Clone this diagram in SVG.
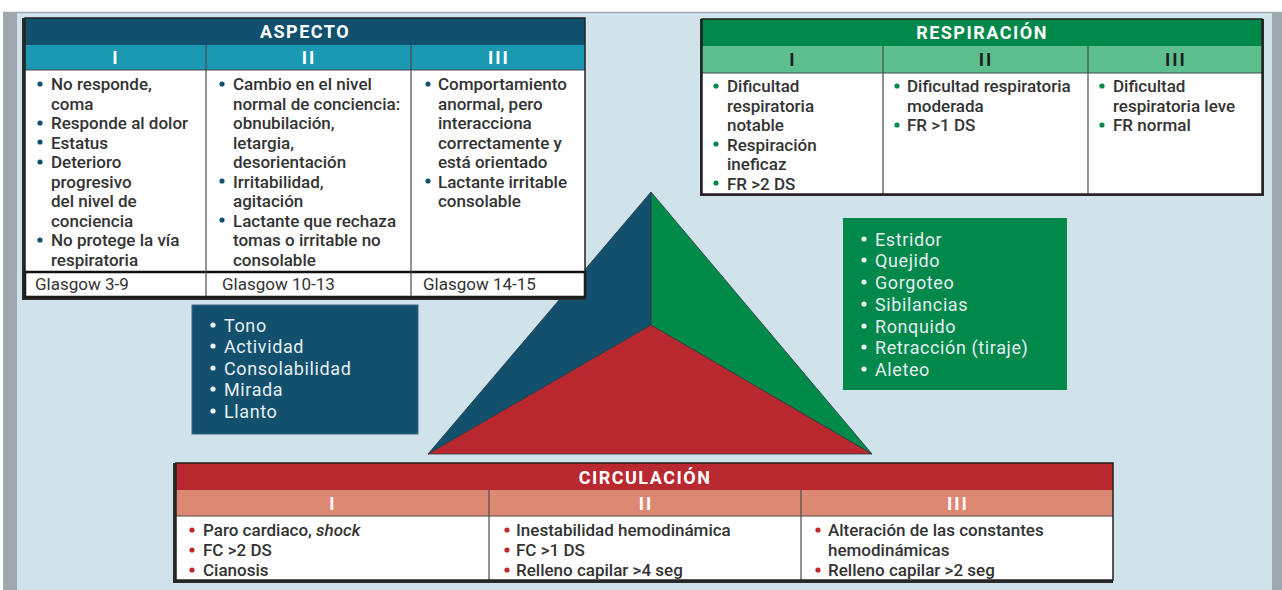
<svg xmlns="http://www.w3.org/2000/svg" width="1282" height="590" viewBox="0 0 1282 590">
<style>
  .hdr{font-family:Roboto,"Liberation Sans",sans-serif;font-weight:700;font-size:18px;fill:#ffffff;letter-spacing:1.5px;text-anchor:middle}
  .num{font-family:Roboto,"Liberation Sans",sans-serif;font-weight:700;font-size:18px;fill:#ffffff;letter-spacing:2px;text-anchor:middle}
  .numd{fill:#1e1e1e}
  .bd{font-family:Roboto,"Liberation Sans",sans-serif;font-weight:500;font-size:17px;fill:#333333}
  .gl{font-family:Roboto,"Liberation Sans",sans-serif;font-weight:400;font-size:17px;fill:#333333}
  .bx{font-family:Roboto,"Liberation Sans",sans-serif;font-weight:400;font-size:18px;fill:#e6eef2;letter-spacing:0.6px}
  .grid{stroke:#4a4a4a;stroke-width:1.2;fill:none}
  .frame{fill:none;stroke:#222;stroke-width:1.5}
  .shadow{fill:#2a2a2a}
  .db{fill:#12506e}.dg{fill:#00894a}.dr{fill:#c0282f}.dw{fill:#eef3f5}
</style>
<rect x="0" y="0" width="1282" height="590" fill="#ffffff"/>
<rect x="3" y="12" width="14" height="578" fill="#9ea8ad"/>
<rect x="1272" y="12" width="10" height="578" fill="#9ea8ad"/>
<rect x="17" y="12" width="1255" height="578" fill="#d0e2ea"/>
<line x1="3" y1="12.5" x2="1282" y2="12.5" stroke="#9ea8ad" stroke-width="1.5"/>

<g id="triangle">
  <polygon points="651,192 651,325 428,454" fill="#12506e" stroke="#2a3a40" stroke-width="0.8"/>
  <polygon points="651,192 651,325 872,454" fill="#008a4a" stroke="#2a3a40" stroke-width="0.8"/>
  <polygon points="428,454 651,325 872,454" fill="#b9282f" stroke="#2a3a40" stroke-width="0.8"/>
</g>

<g id="aspecto">
  <rect class="shadow" x="22" y="18" width="563" height="282"/>
  <rect x="25" y="18" width="560" height="27" fill="#12506e"/>
  <rect x="25" y="45" width="560" height="25" fill="#1b98b2"/>
  <rect x="25" y="70" width="560" height="202" fill="#ffffff"/>
  <rect x="25" y="272" width="560" height="25" fill="#ffffff" stroke="#111" stroke-width="2.5"/>
  <line class="grid" x1="206" y1="45" x2="206" y2="297"/>
  <line class="grid" x1="411" y1="45" x2="411" y2="297"/>
  <line class="grid" x1="25" y1="70" x2="585" y2="70"/>
  <rect class="frame" x="25" y="18" width="560" height="279"/>
  <text class="hdr" x="305" y="38">ASPECTO</text>
  <text class="num" x="116" y="64">I</text>
  <text class="num" x="309" y="64">II</text>
  <text class="num" x="499" y="64">III</text>
  <g class="db">
    <circle cx="40" cy="84" r="2.6"/><circle cx="40" cy="123" r="2.6"/><circle cx="40" cy="142" r="2.6"/><circle cx="40" cy="162" r="2.6"/><circle cx="40" cy="240" r="2.6"/>
    <circle cx="222" cy="84" r="2.6"/><circle cx="222" cy="181" r="2.6"/><circle cx="222" cy="220" r="2.6"/>
    <circle cx="428" cy="84" r="2.6"/><circle cx="428" cy="181" r="2.6"/>
  </g>
  <text class="bd">
    <tspan x="51" y="90">No responde,</tspan>
    <tspan x="51" y="109.5">coma</tspan>
    <tspan x="51" y="129">Responde al dolor</tspan>
    <tspan x="51" y="148.5">Estatus</tspan>
    <tspan x="51" y="168">Deterioro</tspan>
    <tspan x="51" y="187.5">progresivo</tspan>
    <tspan x="51" y="207">del nivel de</tspan>
    <tspan x="51" y="226.5">conciencia</tspan>
    <tspan x="51" y="246">No protege la vía</tspan>
    <tspan x="51" y="265.5">respiratoria</tspan>
  </text>
  <text class="bd">
    <tspan x="233" y="90">Cambio en el nivel</tspan>
    <tspan x="233" y="109.5">normal de conciencia:</tspan>
    <tspan x="233" y="129">obnubilación,</tspan>
    <tspan x="233" y="148.5">letargia,</tspan>
    <tspan x="233" y="168">desorientación</tspan>
    <tspan x="233" y="187.5">Irritabilidad,</tspan>
    <tspan x="233" y="207">agitación</tspan>
    <tspan x="233" y="226.5">Lactante que rechaza</tspan>
    <tspan x="233" y="246">tomas o irritable no</tspan>
    <tspan x="233" y="265.5">consolable</tspan>
  </text>
  <text class="bd">
    <tspan x="438" y="90">Comportamiento</tspan>
    <tspan x="438" y="109.5">anormal, pero</tspan>
    <tspan x="438" y="129">interacciona</tspan>
    <tspan x="438" y="148.5">correctamente y</tspan>
    <tspan x="438" y="168">está orientado</tspan>
    <tspan x="438" y="187.5">Lactante irritable</tspan>
    <tspan x="438" y="207">consolable</tspan>
  </text>
  <text class="gl" x="35" y="290">Glasgow 3-9</text>
  <text class="gl" x="222" y="290">Glasgow 10-13</text>
  <text class="gl" x="423" y="290">Glasgow 14-15</text>
</g>

<g id="respiracion">
  <rect class="shadow" x="700" y="19" width="564" height="177"/>
  <rect x="702" y="19" width="560" height="27" fill="#00884a"/>
  <rect x="702" y="46" width="560" height="27" fill="#5dbf8e"/>
  <rect x="702" y="73" width="560" height="121" fill="#ffffff"/>
  <line class="grid" x1="883" y1="46" x2="883" y2="194"/>
  <line class="grid" x1="1088" y1="46" x2="1088" y2="194"/>
  <line class="grid" x1="702" y1="73" x2="1262" y2="73"/>
  <rect class="frame" x="702" y="19" width="560" height="175"/>
  <text class="hdr" x="982" y="39">RESPIRACIÓN</text>
  <text class="num numd" x="793" y="66">I</text>
  <text class="num numd" x="986" y="66">II</text>
  <text class="num numd" x="1176" y="66">III</text>
  <g class="dg">
    <circle cx="716" cy="86" r="2.6"/><circle cx="716" cy="144" r="2.6"/><circle cx="716" cy="183" r="2.6"/>
    <circle cx="897" cy="86" r="2.6"/><circle cx="897" cy="125" r="2.6"/>
    <circle cx="1102" cy="86" r="2.6"/><circle cx="1102" cy="125" r="2.6"/>
  </g>
  <text class="bd">
    <tspan x="727" y="92">Dificultad</tspan>
    <tspan x="727" y="111.5">respiratoria</tspan>
    <tspan x="727" y="131">notable</tspan>
    <tspan x="727" y="150.5">Respiración</tspan>
    <tspan x="727" y="170">ineficaz</tspan>
    <tspan x="727" y="189.5">FR &gt;2 DS</tspan>
  </text>
  <text class="bd">
    <tspan x="907" y="92">Dificultad respiratoria</tspan>
    <tspan x="907" y="111.5">moderada</tspan>
    <tspan x="907" y="131">FR &gt;1 DS</tspan>
  </text>
  <text class="bd">
    <tspan x="1113" y="92">Dificultad</tspan>
    <tspan x="1113" y="111.5">respiratoria leve</tspan>
    <tspan x="1113" y="131">FR normal</tspan>
  </text>
</g>

<g id="aspecto-signos">
  <rect x="192" y="305" width="226" height="129" fill="#12506e" stroke="#3c6a80" stroke-width="1"/>
  <g class="dw">
    <circle cx="213" cy="325" r="2.6"/><circle cx="213" cy="346" r="2.6"/><circle cx="213" cy="368" r="2.6"/><circle cx="213" cy="389" r="2.6"/><circle cx="213" cy="411" r="2.6"/>
  </g>
  <text class="bx">
    <tspan x="224" y="331.5">Tono</tspan>
    <tspan x="224" y="353">Actividad</tspan>
    <tspan x="224" y="374.5">Consolabilidad</tspan>
    <tspan x="224" y="396">Mirada</tspan>
    <tspan x="224" y="417.5">Llanto</tspan>
  </text>
</g>

<g id="respiracion-signos">
  <rect x="843" y="218" width="224" height="172" fill="#00894a"/>
  <g class="dw">
    <circle cx="864" cy="239" r="2.6"/><circle cx="864" cy="260" r="2.6"/><circle cx="864" cy="282" r="2.6"/><circle cx="864" cy="304" r="2.6"/><circle cx="864" cy="326" r="2.6"/><circle cx="864" cy="347" r="2.6"/><circle cx="864" cy="369" r="2.6"/>
  </g>
  <text class="bx">
    <tspan x="875" y="245.5">Estridor</tspan>
    <tspan x="875" y="267">Quejido</tspan>
    <tspan x="875" y="288.5">Gorgoteo</tspan>
    <tspan x="875" y="310.5">Sibilancias</tspan>
    <tspan x="875" y="332.5">Ronquido</tspan>
    <tspan x="875" y="354">Retracción (tiraje)</tspan>
    <tspan x="875" y="375.5">Aleteo</tspan>
  </text>
</g>

<g id="circulacion">
  <rect class="shadow" x="173" y="463" width="940" height="120"/>
  <rect x="176" y="463" width="937" height="27" fill="#b9282f"/>
  <rect x="176" y="490" width="937" height="26" fill="#dd8872"/>
  <rect x="176" y="516" width="937" height="64" fill="#ffffff"/>
  <line class="grid" x1="489" y1="490" x2="489" y2="580"/>
  <line class="grid" x1="801" y1="490" x2="801" y2="580"/>
  <line class="grid" x1="176" y1="516" x2="1113" y2="516"/>
  <rect class="frame" x="176" y="463" width="937" height="117"/>
  <text class="hdr" x="645" y="483.5">CIRCULACIÓN</text>
  <text class="num" x="333" y="509.5">I</text>
  <text class="num" x="646" y="509.5">II</text>
  <text class="num" x="958" y="509.5">III</text>
  <g class="dr">
    <circle cx="192" cy="530" r="2.6"/><circle cx="192" cy="550" r="2.6"/><circle cx="192" cy="570" r="2.6"/>
    <circle cx="507" cy="530" r="2.6"/><circle cx="507" cy="550" r="2.6"/><circle cx="507" cy="570" r="2.6"/>
    <circle cx="818" cy="530" r="2.6"/><circle cx="818" cy="570" r="2.6"/>
  </g>
  <text class="bd">
    <tspan x="203" y="536">Paro cardiaco, <tspan font-style="italic">shock</tspan></tspan>
    <tspan x="203" y="556">FC &gt;2 DS</tspan>
    <tspan x="203" y="576">Cianosis</tspan>
  </text>
  <text class="bd">
    <tspan x="516" y="536">Inestabilidad hemodinámica</tspan>
    <tspan x="516" y="556">FC &gt;1 DS</tspan>
    <tspan x="516" y="576">Relleno capilar &gt;4 seg</tspan>
  </text>
  <text class="bd">
    <tspan x="828" y="536">Alteración de las constantes</tspan>
    <tspan x="828" y="556">hemodinámicas</tspan>
    <tspan x="828" y="576">Relleno capilar &gt;2 seg</tspan>
  </text>
</g>

<g id="connectors"/>
</svg>
